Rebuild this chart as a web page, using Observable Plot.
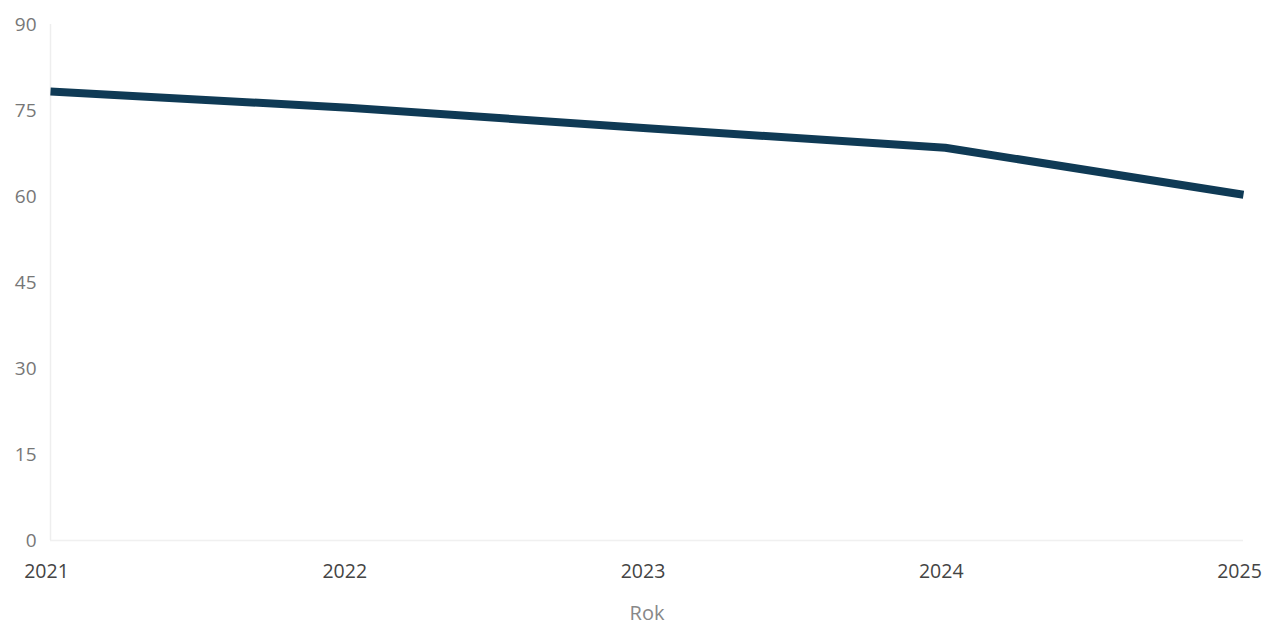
<!DOCTYPE html>
<html><head><meta charset="utf-8">
<script src="https://cdn.jsdelivr.net/npm/d3@7"></script>
<script src="https://cdn.jsdelivr.net/npm/@observablehq/plot@0.6"></script>
<style>
html,body{margin:0;padding:0;background:#fff;}
#chart svg{font-family:"Open Sans",sans-serif;}
</style>
</head><body><div id="chart"></div>
<script>
const years = [2021, 2022, 2023, 2024, 2025];
const values = [78.3, 75.5, 71.9, 68.5, 60.3];
const yTicks = [0, 15, 30, 45, 60, 75, 90];
const xLabel = "Rok";

const data = years.map((y, i) => ({year: y, value: values[i]}));

const chart = Plot.plot({
  width: 1270,
  height: 626,
  marginTop: 24,
  marginBottom: 86,
  marginLeft: 50,
  marginRight: 27,
  style: {fontFamily: "Open Sans, sans-serif", fontSize: "19px", color: "#555", background: "#fff"},
  x: {domain: [2021, 2025], ticks: years, tickFormat: d => String(d), label: null},
  y: {domain: [0, 90], ticks: yTicks, label: null},
  marks: [
    Plot.ruleX([2021], {stroke: "#eeeeee", strokeWidth: 1.5}),
    Plot.ruleY([0], {stroke: "#f0f0f0", strokeWidth: 1.5}),
    Plot.axisY({ticks: yTicks, tickSize: 0, tickPadding: 14, label: null, fill: "#777", fontSize: 19}),
    Plot.axisX({ticks: years, tickFormat: d => String(d), tickSize: 0, tickPadding: 24, dx: -4, label: null, fill: "#444", fontSize: 19.5}),
    Plot.text([xLabel], {frameAnchor: "bottom", dy: 79, text: d => d, fill: "#888", fontSize: 20}),
    Plot.line(data, {x: "year", y: "value", stroke: "#0f3a55", strokeWidth: 8, strokeLinejoin: "round", strokeLinecap: "butt"})
  ]
});
document.getElementById("chart").appendChild(chart);
</script>
</body></html>
